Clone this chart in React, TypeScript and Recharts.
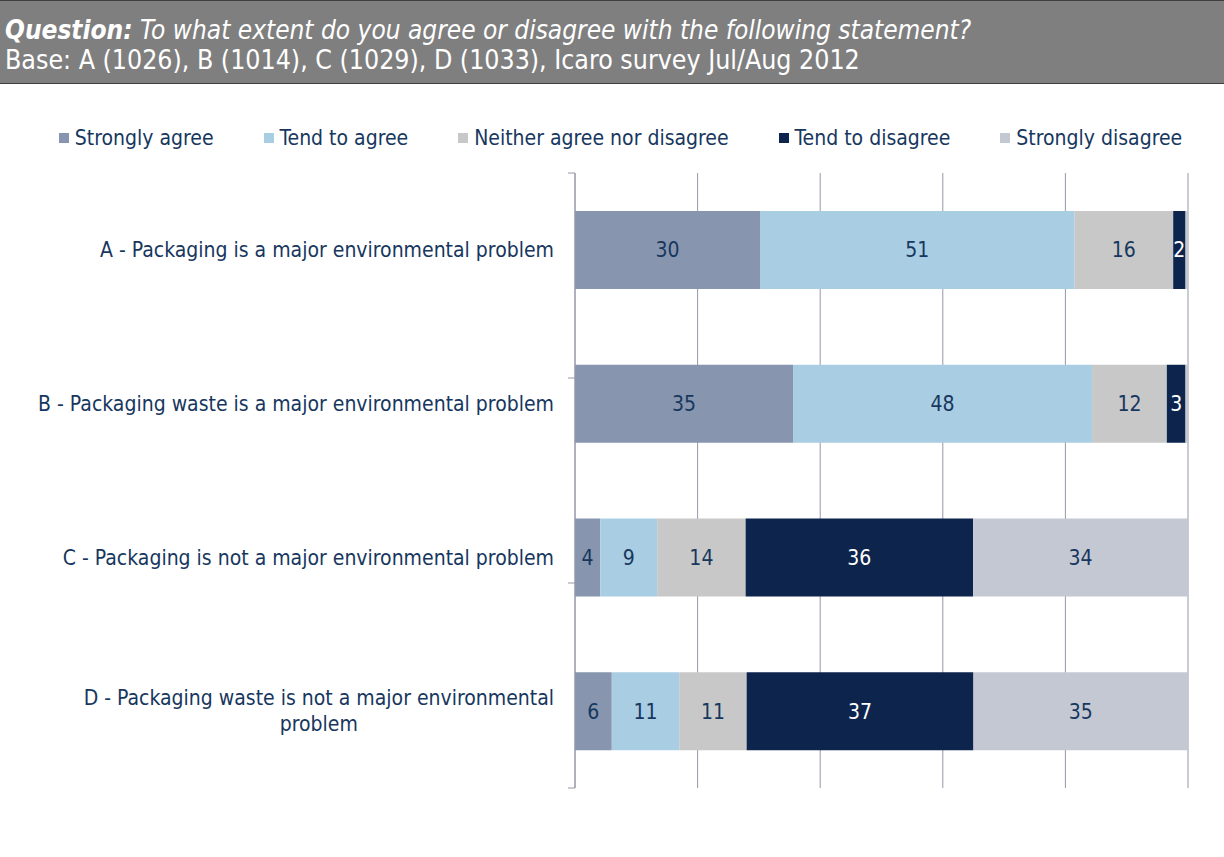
import React from 'react';
import { BarChart, Bar, XAxis, YAxis, CartesianGrid, LabelList } from 'recharts';

const statements = [
  'A - Packaging is a major environmental problem',
  'B - Packaging waste is a major environmental problem',
  'C - Packaging is not a major environmental problem',
  'D - Packaging waste is not a major environmental problem',
];
const stronglyAgree = [30, 35, 4, 6];
const tendToAgree = [51, 48, 9, 11];
const neitherAgree = [16, 12, 14, 11];
const tendToDisagree = [2, 3, 36, 37];
const stronglyDisagree = [0.4, 0.4, 34, 35];

const seriesKeys = ['sa', 'ta', 'ne', 'td', 'sd'];
const seriesNames = ['Strongly agree', 'Tend to agree', 'Neither agree nor disagree', 'Tend to disagree', 'Strongly disagree'];
const seriesColors = ['#8796ae', '#a9cde3', '#c8c8c8', '#0d244d', '#c4c8d3'];
const labelColors = ['#17375e', '#17375e', '#17375e', '#ffffff', '#17375e'];
const shareTicks = [0, 0.2, 0.4, 0.6, 0.8, 1];
const rowEdges = [0, 1, 2, 3, 4];

const FONT = '"DejaVu Sans Condensed", "DejaVu Sans", sans-serif';
const NAVY = '#17375e';
const FS = 21;

const data = statements.map((name, i) => ({
  name,
  sa: stronglyAgree[i],
  ta: tendToAgree[i],
  ne: neitherAgree[i],
  td: tendToDisagree[i],
  sd: stronglyDisagree[i],
}));

let canvas: HTMLCanvasElement | null = null;
function measure(s: string) {
  if (!canvas) canvas = document.createElement('canvas');
  const ctx = canvas.getContext('2d');
  if (!ctx) return s.length * 10;
  ctx.font = `${FS}px ${FONT}`;
  return ctx.measureText(s).width;
}

// split long statements the way the original axis wraps them
function wrap(text: string, max = 54) {
  if (text.length <= max) return [text];
  const words = text.split(' ');
  const lines: string[] = [];
  let cur = '';
  words.forEach(w => {
    const next = cur ? cur + ' ' + w : w;
    if (next.length > max - 6 && cur) {
      lines.push(cur);
      cur = w;
    } else cur = next;
  });
  if (cur) lines.push(cur);
  return lines;
}

function StatementTick({ x, y, payload }: any) {
  const lines = wrap(payload.value);
  const widest = Math.max(...lines.map(measure));
  const cx = x - widest / 2;
  const lh = 26;
  const y0 = y - ((lines.length - 1) * lh) / 2;
  return (
    <text fontFamily={FONT} fontSize={FS} fill={NAVY} textAnchor={lines.length > 1 ? 'middle' : 'end'}>
      {lines.map((l, i) => (
        <tspan key={i} x={lines.length > 1 ? cx : x} y={y0 + i * lh} dy="0.35em">{l}</tspan>
      ))}
    </text>
  );
}

function LegendRow() {
  return (
    <div style={{ position: 'absolute', top: 126, left: 0, width: 1224, display: 'flex', justifyContent: 'center', gap: 50, paddingLeft: 17, boxSizing: 'border-box', fontFamily: FONT, fontSize: FS, color: NAVY }}>
      {seriesNames.map((n, i) => (
        <div key={n} style={{ display: 'flex', alignItems: 'center' }}>
          <span style={{ width: 10, height: 10, background: seriesColors[i], marginRight: 6, display: 'inline-block' }} />
          <span>{n}</span>
        </div>
      ))}
    </div>
  );
}

export default function App() {
  return (
    <div style={{ position: 'absolute', left: 0, top: 0, width: 1224, height: 857, background: '#fff', fontFamily: FONT }}>
      <div style={{ position: 'absolute', left: 0, top: 0, width: 1224, height: 84, background: '#7f7f7f', borderTop: '1px solid #3f3f3f', borderBottom: '1px solid #3f3f3f', boxSizing: 'border-box', color: '#fff', fontSize: 26.5, lineHeight: '30px', padding: '14px 0 0 5px' }}>
        <div style={{ fontStyle: 'italic', fontSize: 26 }}>
          <b>Question:</b> To what extent do you agree or disagree with the following statement?
        </div>
        <div>Base: A (1026), B (1014), C (1029), D (1033), Icaro survey Jul/Aug 2012</div>
      </div>
      <LegendRow />
      <BarChart
        width={1224}
        height={857}
        data={data}
        layout="vertical"
        stackOffset="expand"
        margin={{ top: 173, right: 36, bottom: 69, left: 0 }}
        style={{ position: 'absolute', left: 0, top: 0 }}
      >
        <CartesianGrid horizontal={false} yAxisId={1} stroke="#9498a8" />
        <XAxis type="number" domain={[0, 1]} ticks={shareTicks} hide />
        <YAxis
          yAxisId={0}
          type="number"
          domain={[0, 4]}
          ticks={rowEdges}
          width={10}
          stroke="#9498a8"
          tickSize={7}
          tickFormatter={() => ''}
        />
        <YAxis
          yAxisId={1}
          dataKey="name"
          type="category"
          width={565}
          axisLine={false}
          tickLine={false}
          tickSize={0}
          tickMargin={11}
          tick={<StatementTick />}
          interval={0}
        />
        {seriesKeys.map((k, i) => (
          <Bar key={k} yAxisId={1} dataKey={k} name={seriesNames[i]} stackId="s" fill={seriesColors[i]} barSize={78} isAnimationActive={false}>
            <LabelList
              dataKey={k}
              position="center"
              fill={labelColors[i]}
              fontFamily={FONT}
              fontSize={FS}
              formatter={(v: any) => (Number(v) >= 1 ? Math.round(Number(v)) : '')}
            />
          </Bar>
        ))}
      </BarChart>
    </div>
  );
}
